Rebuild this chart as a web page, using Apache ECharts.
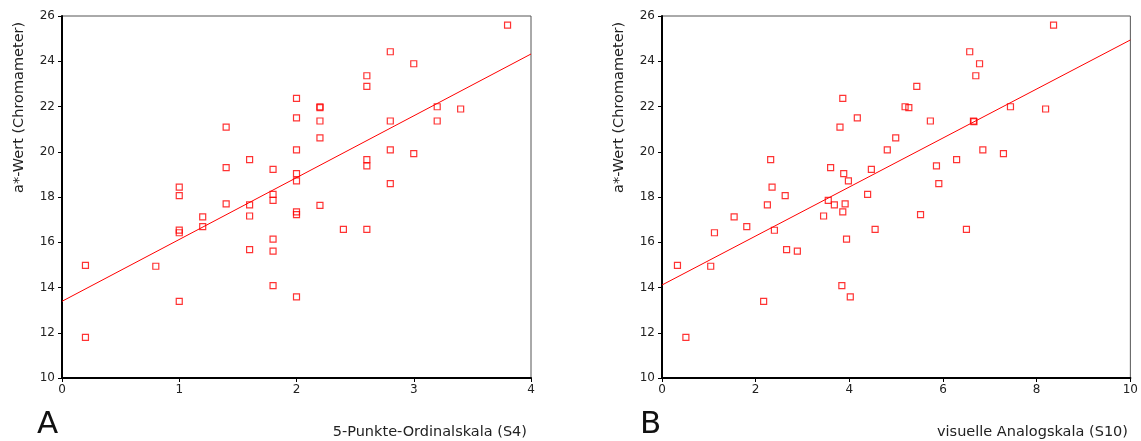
<!DOCTYPE html>
<html><head><meta charset="utf-8">
<script src="https://cdn.jsdelivr.net/npm/echarts@6/dist/echarts.min.js"></script>
<style>html,body{margin:0;padding:0;background:#fff}#c{width:1141px;height:441px}</style>
</head><body><div id="c"></div>
<script>
// Panel A: 5-Punkte-Ordinalskala (S4) vs a*-Wert
const scoreA = [0.2,0.2,0.8,1.0,1.0,1.0,1.0,1.0,1.2,1.2,1.4,1.4,1.4,1.6,1.6,1.6,1.6,1.8,1.8,1.8,1.8,1.8,1.8,2.0,2.0,2.0,2.0,2.0,2.0,2.0,2.0,2.2,2.2,2.2,2.2,2.2,2.4,2.6,2.6,2.6,2.6,2.6,2.8,2.8,2.8,2.8,3.0,3.0,3.2,3.2,3.4,3.8];
const aValA  = [14.98,11.80,14.94,18.44,18.06,16.54,16.42,13.39,17.12,16.69,21.09,19.30,17.70,19.65,17.65,17.16,15.67,19.22,18.12,17.85,16.14,15.61,14.08,22.36,21.50,20.08,19.03,18.71,17.34,17.22,13.59,21.99,21.95,21.36,20.61,17.63,16.57,23.36,22.89,19.65,19.38,16.57,24.42,21.36,20.08,18.59,23.89,19.92,21.99,21.36,21.89,25.60];
// Panel B: visuelle Analogskala (S10) vs a*-Wert
const scoreB = [3.86,4.17,3.80,2.32,3.60,4.47,3.88,3.98,2.35,2.63,4.39,3.55,3.68,3.91,2.25,3.86,3.45,1.54,1.81,1.12,2.40,4.55,3.94,2.66,2.89,0.33,1.04,3.84,4.02,2.17,0.51,8.36,6.57,6.78,6.70,5.44,5.19,5.27,7.44,8.19,5.73,6.65,6.66,4.99,4.81,6.85,7.29,6.29,5.86,5.91,5.52,6.50];
const aValB  = [22.36,21.50,21.09,19.65,19.30,19.22,19.03,18.71,18.44,18.06,18.12,17.85,17.65,17.70,17.65,17.34,17.16,17.12,16.69,16.42,16.53,16.57,16.14,15.67,15.61,14.98,14.94,14.08,13.59,13.39,11.80,25.60,24.42,23.89,23.36,22.89,21.99,21.95,21.99,21.89,21.36,21.36,21.33,20.61,20.08,20.08,19.92,19.65,19.38,18.59,17.22,16.57];
// Regression lines (end points)
const fitA = [[0,13.39],[4,24.32]];
const fitB = [[0,14.11],[10,24.94]];
const yTicks = [10,12,14,16,18,20,22,24,26];
const xTitleA = '5-Punkte-Ordinalskala (S4)';
const xTitleB = 'visuelle Analogskala (S10)';
const yTitle = 'a*-Wert (Chromameter)';

const FONT = 'DejaVu Sans';
const RED = '#ff0000';
function pts(xs, ys){ return xs.map((x,i)=>[x, ys[i]]); }
function xAx(idx, max, interval){
  return {type:'value', gridIndex:idx, min:0, max:max, interval:interval,
    axisLine:{show:true, onZero:false, lineStyle:{color:'#000', width:2}},
    axisTick:{show:true, length:4, lineStyle:{color:'#000', width:1}},
    axisLabel:{color:'#222', fontFamily:FONT, fontSize:12, margin:6},
    splitLine:{show:false}};
}
function yAx(idx){
  return {type:'value', gridIndex:idx, min:yTicks[0], max:yTicks[yTicks.length-1], interval:2,
    axisLine:{show:true, onZero:false, lineStyle:{color:'#000', width:2}},
    axisTick:{show:true, length:4, lineStyle:{color:'#000', width:1}},
    axisLabel:{color:'#222', fontFamily:FONT, fontSize:12, margin:7},
    splitLine:{show:false}};
}
function scat(idx, data){
  return {type:'scatter', xAxisIndex:idx, yAxisIndex:idx, data:data, symbol:'rect', symbolSize:6,
    itemStyle:{color:'rgba(255,255,255,0)', borderColor:RED, borderWidth:1.2}, z:3};
}
function fit(idx, data){
  return {type:'line', xAxisIndex:idx, yAxisIndex:idx, data:data, showSymbol:false, symbol:'none',
    lineStyle:{color:RED, width:1}, z:2};
}
const chart = echarts.init(document.getElementById('c'), null, {renderer:'canvas'});
chart.setOption({
  animation:false,
  backgroundColor:'#fff',
  grid:[
    {left:62, top:16, width:469, height:362, show:true, borderColor:'#555', borderWidth:1, backgroundColor:'transparent'},
    {left:662, top:16, width:469, height:362, show:true, borderColor:'#555', borderWidth:1, backgroundColor:'transparent'}
  ],
  xAxis:[xAx(0,4,1), xAx(1,10,2)],
  yAxis:[yAx(0), yAx(1)],
  series:[fit(0, fitA), scat(0, pts(scoreA, aValA)), fit(1, fitB), scat(1, pts(scoreB, aValB))],
  graphic:[
    {type:'text', x:12, y:193, rotation:Math.PI/2, style:{text:yTitle, font:'14.5px "DejaVu Sans"', fill:'#222', textVerticalAlign:'top'}},
    {type:'text', x:612, y:193, rotation:Math.PI/2, style:{text:yTitle, font:'14.5px "DejaVu Sans"', fill:'#222', textVerticalAlign:'top'}},
    {type:'text', x:37, y:409, style:{text:'A', font:'31px "DejaVu Sans"', fill:'#111'}},
    {type:'text', x:640, y:409, style:{text:'B', font:'31px "DejaVu Sans"', fill:'#111'}},
    {type:'text', right:1141-527, top:425, style:{text:xTitleA, font:'14.5px "DejaVu Sans"', fill:'#222'}},
    {type:'text', right:1141-1128, top:425, style:{text:xTitleB, font:'14.5px "DejaVu Sans"', fill:'#222'}}
  ]
});
</script></body></html>
